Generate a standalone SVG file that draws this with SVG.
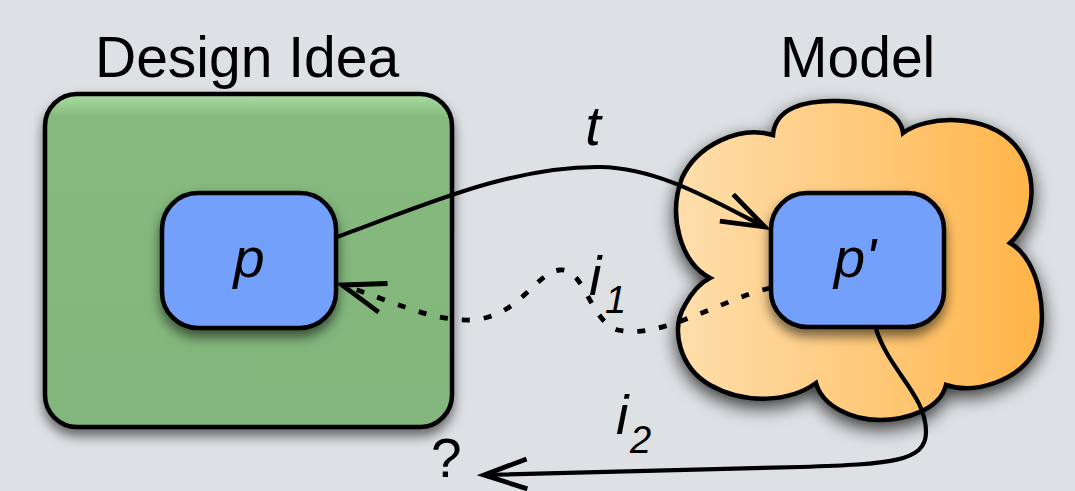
<svg xmlns="http://www.w3.org/2000/svg" width="1075" height="491" viewBox="0 0 1075 491">
  <defs>
    <linearGradient id="greenFill" x1="0" y1="0" x2="0" y2="1">
      <stop offset="0" stop-color="#aadda3"/>
      <stop offset="0.07" stop-color="#85b97e"/>
      <stop offset="1" stop-color="#82b67b"/>
    </linearGradient>
    <linearGradient id="cloudFill" x1="0" y1="0" x2="1" y2="0">
      <stop offset="0" stop-color="#ffdeac"/>
      <stop offset="0.5" stop-color="#ffca7c"/>
      <stop offset="1" stop-color="#ffb446"/>
    </linearGradient>
    <filter id="shadow" x="-20%" y="-20%" width="140%" height="150%">
      <feDropShadow dx="0" dy="7" stdDeviation="6" flood-color="#000" flood-opacity="0.55"/>
    </filter>
    <filter id="cloudShadow" x="-20%" y="-20%" width="140%" height="150%">
      <feDropShadow dx="0" dy="7" stdDeviation="9" flood-color="#000" flood-opacity="0.75"/>
    </filter>
    <marker id="arrow" viewBox="-50 -20 56 40" markerWidth="56" markerHeight="40" refX="0" refY="0" orient="auto" markerUnits="userSpaceOnUse" overflow="visible">
      <path d="M-43,-15 L0,0 L-43,15" fill="none" stroke="#000" stroke-width="4.8" stroke-dasharray="none" stroke-linejoin="miter"/>
    </marker>
  </defs>
  <style>
    .title { font-family: "Liberation Sans", Arial, sans-serif; font-size: 57px; fill: #000; }
    .math { font-family: "Liberation Sans", Arial, sans-serif; font-style: italic; font-size: 56px; fill: #000; }
    .sub { font-family: "Liberation Sans", Arial, sans-serif; font-style: italic; font-size: 38px; fill: #000; }
    .plain { font-family: "Liberation Sans", Arial, sans-serif; font-size: 55px; fill: #000; }
    .inner { fill: #73a0fb; stroke: #000; stroke-width: 4.5; }
    .edge { fill: none; stroke: #000; stroke-width: 4.2; }
    .dotted { stroke-dasharray: 8 14; stroke-width: 4.8; }
  </style>

  <rect width="1075" height="491" fill="#dee1e4"/>

  <!-- Design idea container -->
  <g id="design-idea">
    <rect x="45" y="94" width="407" height="333" rx="32" ry="32" fill="url(#greenFill)" stroke="#000" stroke-width="4.5" filter="url(#shadow)"/>
    <text class="title" x="95" y="77">Design Idea</text>
  </g>

  <!-- Model cloud -->
  <g id="model">
    <path d="M773,135 C775,108 805,100 838,101 C870,102 900,110 903,133 C925,116 985,112 1015,145 C1040,175 1035,220 1010,243 C1040,260 1050,320 1035,350 C1020,380 975,395 946,385 C940,410 905,420 880,420 C850,420 822,405 816,383 C790,402 745,405 710,385 C680,368 670,330 685,305 C692,292 700,283 710,278 C680,262 668,215 682,178 C697,145 740,125 773,135 Z" fill="url(#cloudFill)" stroke="#000" stroke-width="4.5" stroke-linejoin="miter" filter="url(#cloudShadow)"/>
    <text class="title" x="780" y="77">Model</text>
  </g>

  <!-- Property p -->
  <g id="p">
    <rect class="inner" x="162" y="193" width="174" height="135" rx="36" ry="36" filter="url(#shadow)"/>
    <text class="math" x="249" y="277" text-anchor="middle">p</text>
  </g>

  <!-- Property p' -->
  <g id="p-prime">
    <rect class="inner" x="771" y="193" width="173" height="134" rx="36" ry="36" filter="url(#shadow)"/>
    <text class="math" x="855" y="277" text-anchor="middle">p'</text>
  </g>

  <!-- Connectors -->
  <g id="connectors">
    <path class="edge" d="M337,237 C420,207 510,166 600,167 C660,168 715,202 765,227" marker-end="url(#arrow)"/>
    <path class="edge dotted" d="M770,288 C720,300 660,340 618,330 C590,322 585,268 560,270 C535,272 520,318 470,320 C430,321 390,300 342,285" marker-end="url(#arrow)"/>
    <path class="edge" d="M876,329 C890,372 926,395 926,432 C926,462 890,464 800,467 L484,475" marker-end="url(#arrow)"/>

    <text class="math" x="593" y="145" text-anchor="middle">t</text>
    <text class="math" x="589" y="295">i</text>
    <text class="sub" x="605" y="313">1</text>
    <text class="math" x="616" y="434">i</text>
    <text class="sub" x="630" y="453">2</text>
    <text class="plain" x="431" y="477">?</text>
  </g>
</svg>
